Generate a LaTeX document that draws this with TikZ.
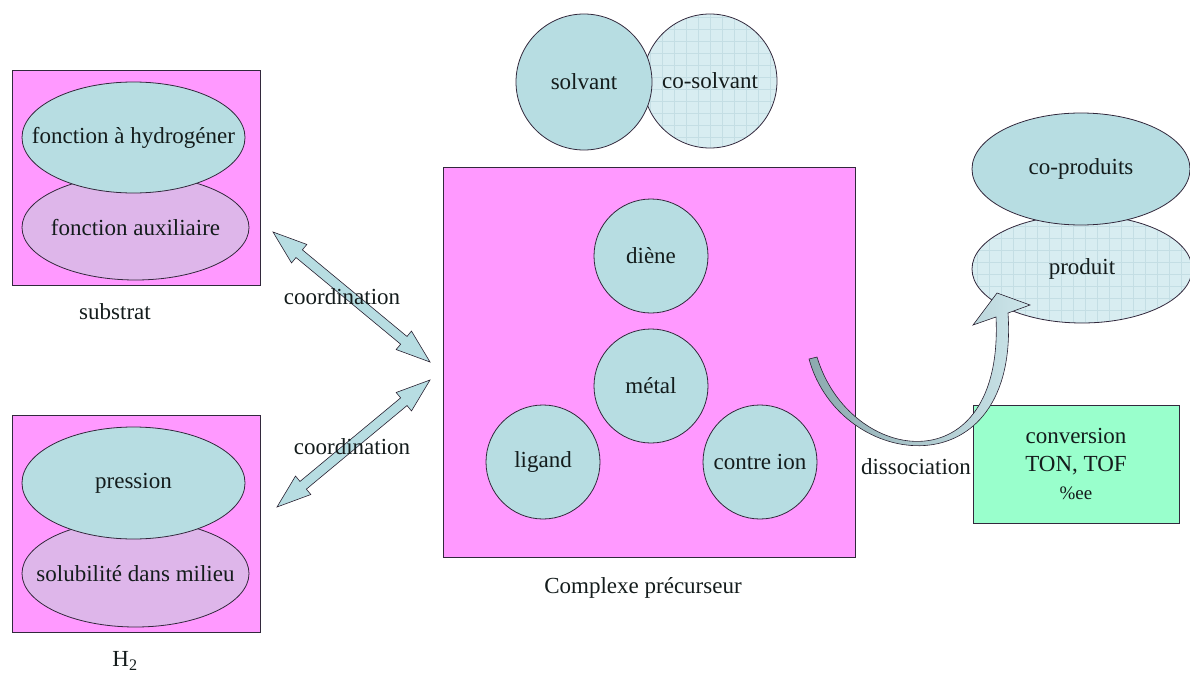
\documentclass[tikz,border=0pt]{standalone}
\usepackage{fontspec}
\setmainfont{Liberation Serif}
\usetikzlibrary{calc,shapes.geometric}
\definecolor{pinkbox}{RGB}{255,153,255}
\definecolor{cyanfill}{RGB}{183,221,226}
\definecolor{lavfill}{RGB}{222,182,234}
\definecolor{gridfill}{RGB}{216,237,241}
\definecolor{gridline}{RGB}{196,222,228}
\definecolor{mintfill}{RGB}{153,255,204}
\definecolor{outl}{RGB}{50,40,60}
\definecolor{txt}{RGB}{20,28,28}
\definecolor{arrowdark}{RGB}{140,170,175}
\definecolor{arrowlight}{RGB}{205,230,235}
\definecolor{dblarrow}{RGB}{183,221,226}
\tikzset{
  basebox/.style={draw=outl, line width=0.8pt, inner sep=0pt},
  pinkrect/.style={basebox, rectangle, fill=pinkbox},
  tightell/.style={basebox, ellipse, inner xsep=-105pt, inner ysep=-12pt, text=txt},
  cyanell/.style={tightell, fill=cyanfill},
  lavell/.style={tightell, fill=lavfill},
  gridded/.style={fill=gridfill, path picture={\draw[gridline, line width=0.4pt, step=12pt] (path picture bounding box.south west) grid (path picture bounding box.north east);}},
  ball/.style={basebox, circle, fill=cyanfill, minimum size=114pt, text=txt},
  lbl/.style={text=txt, inner sep=1pt},
  dblarr/.style={draw=outl!80!black, line width=0.6pt, fill=dblarrow}
}
\newcommand{\dblarrowpath}[2]{%
  \path[dblarr] (#1)
   -- ($(#1)!34pt!(#2)!12pt!90:(#2)$)
   -- ($(#1)!34pt!(#2)!5pt!90:(#2)$)
   -- ($(#2)!34pt!(#1)!5pt!-90:(#1)$)
   -- ($(#2)!34pt!(#1)!12pt!-90:(#1)$)
   -- (#2)
   -- ($(#2)!34pt!(#1)!12pt!90:(#1)$)
   -- ($(#2)!34pt!(#1)!5pt!90:(#1)$)
   -- ($(#1)!34pt!(#2)!5pt!-90:(#2)$)
   -- ($(#1)!34pt!(#2)!12pt!-90:(#2)$)
   -- cycle;}
\begin{document}
\begin{tikzpicture}[x=1pt, y=-1pt, font=\fontsize{23}{27}\selectfont]
\useasboundingbox (0,0) rectangle (1190,677);

% substrat
\node[pinkrect, minimum width=248pt, minimum height=215pt] (subbox) at (136,177.5) {};
\node[lavell, minimum width=227pt, minimum height=105pt] (aux) at (135.5,227.5) {fonction auxiliaire};
\node[cyanell, minimum width=223pt, minimum height=111pt] (hyd) at (133.5,137.5) {fonction à hydrogéner};
\node[lbl] (substrat) at (115,312) {substrat};

% H2
\node[pinkrect, minimum width=248pt, minimum height=217pt] (hbox) at (136,523.5) {};
\node[lavell, minimum width=227pt, minimum height=107pt] (solu) at (135.5,573.5) {solubilité dans milieu};
\node[cyanell, minimum width=223pt, minimum height=112pt] (press) at (133.5,483) {pression};
\node[lbl] (h2) at (125,661) {H\textsubscript{2}};

% solvants
\node[basebox, circle, gridded, minimum size=134pt, text=txt] (cosolv) at (710,81) {co-solvant};
\node[basebox, circle, fill=cyanfill, minimum size=136pt, text=txt] (solv) at (584,82) {solvant};

% complexe
\node[pinkrect, minimum width=412pt, minimum height=390pt] (cbox) at (649,362) {};
\node[ball] (diene) at (651,256) {diène};
\node[ball] (metal) at (651,386) {métal};
\node[ball] (ligand) at (543,462) {ligand};
\node[ball] (contre) at (760,462) {contre ion};
\node[lbl] (complexe) at (643,588) {Complexe précurseur};

% produits
\node[tightell, gridded, minimum width=220pt, minimum height=108pt] (produit) at (1082,269) {produit};
\node[cyanell, minimum width=218pt, minimum height=112pt] (coprod) at (1081,169) {co-produits};

% conversion
\node[basebox, rectangle, fill=mintfill, minimum width=206pt, minimum height=118pt, align=center, text=txt, font=\fontsize{23}{28}\selectfont] (conv) at (1076,464) {conversion\\TON, TOF\\{\fontsize{19}{22}\selectfont \%ee}};

% coordination arrows
\coordinate (c1a) at (273,232);
\coordinate (c1b) at (430,362);
\coordinate (c2a) at (430,380);
\coordinate (c2b) at (277,507);
\dblarrowpath{c1a}{c1b}
\dblarrowpath{c2a}{c2b}
\node[lbl] (coord1) at (342,297) {coordination};
\node[lbl] (coord2) at (352,447) {coordination};

% dissociation curved arrow
\coordinate (dstart) at (813,358);
\coordinate (dtip) at (997,293);
\path[draw=outl!80!black, line width=0.6pt, left color=arrowdark, right color=arrowlight]
  (809,359) -- (817,357)
  .. controls (850,466) and (1004,486) .. (996,317)
  -- (973,325) -- (dtip) -- (1030,305) -- (1008,313)
  .. controls (1020,492) and (840,472) .. (809,359) -- cycle;
\node[lbl] (dissoc) at (916,467) {dissociation};
\end{tikzpicture}
\end{document}
